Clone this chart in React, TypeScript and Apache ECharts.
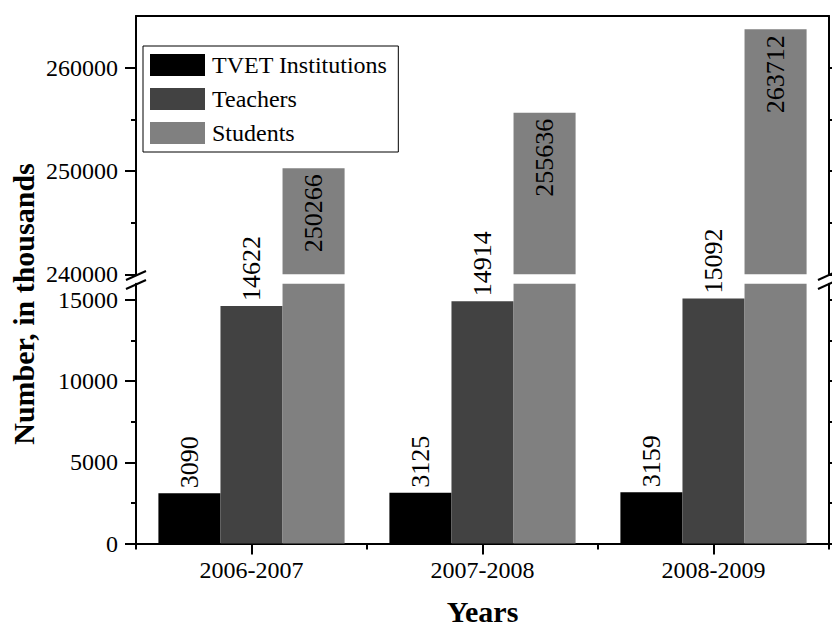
import React, { useEffect, useRef } from "react";
import * as echarts from "echarts";

const categories = ["2006-2007", "2007-2008", "2008-2009"];
const tvet = [3090, 3125, 3159];
const teachers = [14622, 14914, 15092];
const students = [250266, 255636, 263712];

const topMajorTicks = [240000, 250000, 260000];
const topMinorTicks = [245000, 255000];
const bottomMajorTicks = [0, 5000, 10000, 15000];
const bottomMinorTicks = [2500, 7500, 12500];

const TOP_MIN = 240000;
const TOP_MAX = 265000;
const BOTTOM_MIN = 0;
const BOTTOM_MAX = 16000;

const FONT = "Liberation Serif";
const C_TVET = "#000000";
const C_TEACH = "#424242";
const C_STUD = "#808080";

export default function App() {
  const ref = useRef<HTMLDivElement>(null);

  useEffect(() => {
    if (!ref.current) return;
    const chart = echarts.init(ref.current, undefined, { renderer: "svg" });
    const axisLine = { show: true, lineStyle: { color: "#000", width: 2 } };
    const labelStyle = { color: "#000", fontFamily: FONT, fontSize: 24 };

    const leftMajor = (gridIndex: number, min: number, max: number, ticks: number[]) => ({
      type: "value",
      gridIndex,
      position: "left",
      min,
      max,
      axisLine,
      splitLine: { show: false },
      axisTick: { show: true, length: 11, customValues: ticks, lineStyle: { color: "#000", width: 2 } },
      axisLabel: { ...labelStyle, margin: 18, customValues: ticks, formatter: (v: number) => String(v) },
    });
    const leftMinor = (gridIndex: number, min: number, max: number, ticks: number[]) => ({
      type: "value",
      gridIndex,
      position: "left",
      min,
      max,
      axisLine: { show: false },
      splitLine: { show: false },
      axisTick: { show: true, length: 5, customValues: ticks, lineStyle: { color: "#000", width: 2 } },
      axisLabel: { show: false },
    });
    const rightAxis = (gridIndex: number, min: number, max: number, ticks: number[]) => ({
      type: "value",
      gridIndex,
      position: "right",
      min,
      max,
      axisLine,
      splitLine: { show: false },
      axisTick: { show: true, length: 6, customValues: ticks, lineStyle: { color: "#000", width: 2 } },
      axisLabel: { show: false },
    });

    const bottomStudents = students.map((v) => Math.min(v, BOTTOM_MAX));

    const rotLabelTop = {
      show: true,
      position: "top",
      rotate: 90,
      align: "left",
      verticalAlign: "middle",
      distance: 5,
      color: "#000",
      fontFamily: FONT,
      fontSize: 26,
    };

    chart.setOption({
      animation: false,
      backgroundColor: "#fff",
      textStyle: { fontFamily: FONT },
      legend: {
        orient: "vertical",
        left: 143,
        top: 46,
        padding: [7, 11, 7, 7],
        itemWidth: 55,
        itemHeight: 22,
        itemGap: 10,
        icon: "rect",
        borderColor: "#000",
        borderWidth: 1,
        data: ["TVET Institutions", "Teachers", "Students"],
        textStyle: { color: "#000", fontFamily: FONT, fontSize: 24, lineHeight: 22, padding: [0, 0, 0, 2] },
      },
      grid: [
        { left: 136, right: 3, top: 16, bottom: 353.7, containLabel: false },
        { left: 136, right: 3, top: 283.7, bottom: 84.5, containLabel: false },
      ],
      xAxis: [
        {
          type: "category",
          gridIndex: 0,
          position: "top",
          data: categories,
          axisLine,
          axisTick: { show: false },
          axisLabel: { show: false },
        },
        {
          type: "category",
          gridIndex: 1,
          position: "bottom",
          data: categories,
          axisLine,
          axisTick: { show: true, alignWithLabel: true, length: 11, lineStyle: { color: "#000", width: 2 } },
          axisLabel: { ...labelStyle, margin: 14 },
          name: "Years",
          nameLocation: "middle",
          nameGap: 53,
          nameTextStyle: { color: "#000", fontFamily: FONT, fontSize: 30, fontWeight: "bold" },
        },
        {
          type: "category",
          gridIndex: 1,
          position: "bottom",
          data: categories,
          axisLine: { show: false },
          axisTick: { show: true, length: 6, lineStyle: { color: "#000", width: 2 } },
          axisLabel: { show: false },
        },
      ],
      yAxis: [
        leftMajor(0, TOP_MIN, TOP_MAX, topMajorTicks),
        leftMinor(0, TOP_MIN, TOP_MAX, topMinorTicks),
        rightAxis(0, TOP_MIN, TOP_MAX, [...topMajorTicks, ...topMinorTicks]),
        leftMajor(1, BOTTOM_MIN, BOTTOM_MAX, bottomMajorTicks),
        leftMinor(1, BOTTOM_MIN, BOTTOM_MAX, bottomMinorTicks),
        rightAxis(1, BOTTOM_MIN, BOTTOM_MAX, [...bottomMajorTicks, ...bottomMinorTicks]),
      ],
      series: [
        {
          name: "TVET Institutions",
          type: "bar",
          xAxisIndex: 0,
          yAxisIndex: 0,
          data: tvet.map(() => "-"),
          itemStyle: { color: C_TVET },
          barGap: "0%",
          barCategoryGap: "19.4%",
        },
        {
          name: "Teachers",
          type: "bar",
          xAxisIndex: 0,
          yAxisIndex: 0,
          data: teachers.map(() => "-"),
          itemStyle: { color: C_TEACH },
          barGap: "0%",
          barCategoryGap: "19.4%",
        },
        {
          name: "Students",
          type: "bar",
          xAxisIndex: 0,
          yAxisIndex: 0,
          data: students,
          itemStyle: { color: C_STUD },
          barGap: "0%",
          barCategoryGap: "19.4%",
          label: {
            show: true,
            position: "insideTop",
            rotate: 90,
            align: "right",
            verticalAlign: "middle",
            distance: 6,
            color: "#000",
            fontFamily: FONT,
            fontSize: 26,
          },
        },
        {
          name: "TVET Institutions",
          type: "bar",
          xAxisIndex: 1,
          yAxisIndex: 3,
          data: tvet,
          itemStyle: { color: C_TVET },
          barGap: "0%",
          barCategoryGap: "19.4%",
          label: rotLabelTop,
        },
        {
          name: "Teachers",
          type: "bar",
          xAxisIndex: 1,
          yAxisIndex: 3,
          data: teachers,
          itemStyle: { color: C_TEACH },
          barGap: "0%",
          barCategoryGap: "19.4%",
          label: rotLabelTop,
        },
        {
          name: "Students",
          type: "bar",
          xAxisIndex: 1,
          yAxisIndex: 3,
          data: bottomStudents,
          itemStyle: { color: C_STUD },
          barGap: "0%",
          barCategoryGap: "19.4%",
        },
      ],
      graphic: [
        {
          type: "text",
          x: 23,
          y: 304,
          rotation: Math.PI / 2,
          style: {
            text: "Number, in thousands",
            fill: "#000",
            font: `bold 30px ${FONT}`,
            textAlign: "center",
            textVerticalAlign: "middle",
          },
        },
        { type: "line", shape: { x1: 126, y1: 280, x2: 146, y2: 271 }, style: { stroke: "#000", lineWidth: 2 } },
        { type: "line", shape: { x1: 126, y1: 289, x2: 146, y2: 280 }, style: { stroke: "#000", lineWidth: 2 } },
        { type: "line", shape: { x1: 818, y1: 280, x2: 838, y2: 271 }, style: { stroke: "#000", lineWidth: 2 } },
        { type: "line", shape: { x1: 818, y1: 289, x2: 838, y2: 280 }, style: { stroke: "#000", lineWidth: 2 } },
      ],
    });
    return () => chart.dispose();
  }, []);

  return (
    <div
      ref={ref}
      style={{ position: "absolute", left: 0, top: 0, width: 832, height: 628 }}
    />
  );
}
